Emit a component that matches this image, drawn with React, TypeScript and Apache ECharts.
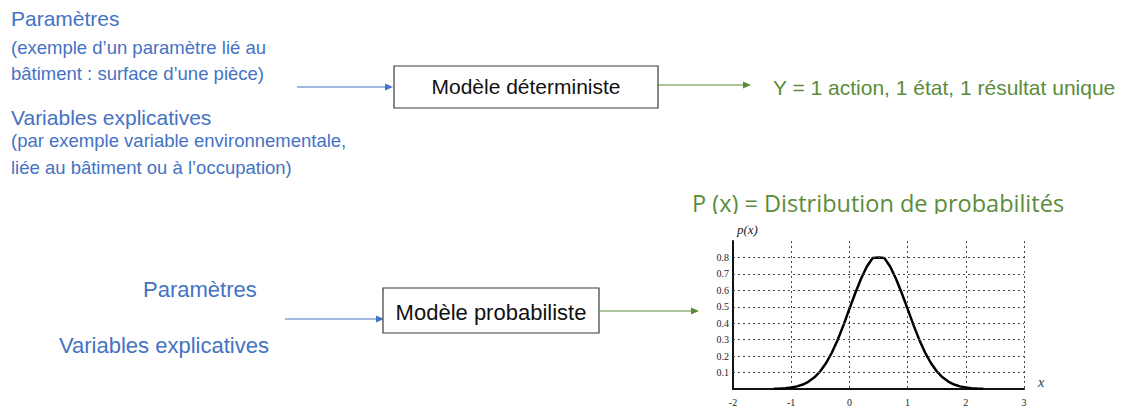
import React, { useEffect, useRef } from "react";
import * as echarts from "echarts";

// ---- Data ----
const curveX = [
  -1.3, -1.2, -1.1, -1.0, -0.9, -0.8, -0.7, -0.6, -0.5, -0.4, -0.3, -0.2, -0.1,
  0.0, 0.1, 0.2, 0.3, 0.4, 0.5, 0.6, 0.7, 0.8, 0.9, 1.0, 1.1, 1.2, 1.3, 1.4,
  1.5, 1.6, 1.7, 1.8, 1.9, 2.0, 2.1, 2.2, 2.3,
];
const curveP = [
  0.002, 0.003, 0.005, 0.009, 0.016, 0.027, 0.045, 0.071, 0.108, 0.158, 0.222,
  0.3, 0.39, 0.487, 0.582, 0.67, 0.745, 0.797, 0.8, 0.797, 0.745, 0.67, 0.582,
  0.487, 0.39, 0.3, 0.222, 0.158, 0.108, 0.071, 0.045, 0.027, 0.016, 0.009,
  0.005, 0.003, 0.002,
];
const xTickLabels = ["-2", "-1", "0", "1", "2", "3"];
const yTickValues = [0.1, 0.2, 0.3, 0.4, 0.5, 0.6, 0.7, 0.8];
const yTickLabels = ["0.1", "0.2", "0.3", "0.4", "0.5", "0.6", "0.7", "0.8"];

const topInputLines = [
  "Paramètres",
  "(exemple d\u2019un paramètre lié au",
  "bâtiment : surface d\u2019une pièce)",
  "Variables explicatives",
  "(par exemple variable environnementale,",
  "liée au bâtiment ou à l\u2019occupation)",
];
const detModelLabel = "Modèle déterministe";
const detResultLabel = "Y = 1 action, 1 état, 1 résultat unique";
const bottomInputLines = ["Paramètres", "Variables explicatives"];
const probModelLabel = "Modèle probabiliste";
const probTitle = "P (x) = Distribution de probabilités";
const yAxisName = "p(x)";
const xAxisName = "x";

const BLUE = "#4472C4";
const GREEN = "#5B8C3A";
const SANS = "'Liberation Sans', Arial, sans-serif";
const SERIF = "'Liberation Serif', 'DejaVu Serif', serif";

function arrow(x1: number, x2: number, y: number, color: string) {
  return [
    {
      type: "line",
      shape: { x1, y1: y, x2: x2 - 6, y2: y },
      style: { stroke: color, lineWidth: 1.2 },
    },
    {
      type: "polygon",
      shape: { points: [[x2 - 8, y - 3.5], [x2, y], [x2 - 8, y + 3.5]] },
      style: { fill: color },
    },
  ];
}

function txt(
  text: string,
  x: number,
  y: number,
  size: number,
  color: string,
  family: string,
  align = "left",
  extra: any = {}
) {
  return {
    type: "text",
    x,
    y,
    style: {
      text,
      fill: color,
      fontSize: size,
      fontFamily: family,
      align,
      verticalAlign: "middle",
      ...extra,
    },
  };
}

export default function App() {
  const ref = useRef<HTMLDivElement>(null);

  useEffect(() => {
    if (!ref.current) return;
    const chart = echarts.init(ref.current, null, { renderer: "svg" });

    const graphic: any[] = [
      // top-left input texts
      txt(topInputLines[0], 11, 18.5, 21, BLUE, SANS),
      txt(topInputLines[1], 11, 47, 18.5, BLUE, SANS),
      txt(topInputLines[2], 11, 73.5, 18.5, BLUE, SANS),
      txt(topInputLines[3], 11, 117.5, 21, BLUE, SANS),
      txt(topInputLines[4], 11, 140.5, 18.5, BLUE, SANS),
      txt(topInputLines[5], 11, 167, 18.5, BLUE, SANS),
      ...arrow(297, 393, 87, BLUE),
      {
        type: "rect",
        shape: { x: 394, y: 66, width: 264, height: 42 },
        style: { fill: "#fff", stroke: "#3a3a3a", lineWidth: 1.2 },
      },
      txt(detModelLabel, 526, 86, 21, "#111", SANS, "center"),
      ...arrow(658, 751, 85, GREEN),
      txt(detResultLabel, 773, 87, 21, GREEN, SANS),

      // bottom section
      txt(bottomInputLines[0], 143, 289, 22, BLUE, SANS),
      txt(bottomInputLines[1], 59, 345, 22, BLUE, SANS),
      ...arrow(285, 384, 319, BLUE),
      {
        type: "rect",
        shape: { x: 383, y: 288, width: 216, height: 45 },
        style: { fill: "#fff", stroke: "#3a3a3a", lineWidth: 1.2 },
      },
      txt(probModelLabel, 491, 312, 22, "#111", SANS, "center"),
      ...arrow(599, 699, 311, GREEN),

      // chart title, clipped at the bottom
      txt(probTitle, 692, 203, 23.5, GREEN, "'Open Sans', 'Noto Sans', sans-serif"),
      {
        type: "rect",
        z: 10,
        shape: { x: 680, y: 214, width: 420, height: 8 },
        style: { fill: "#fff" },
      },
      txt(yAxisName, 737, 229, 13, "#222", SERIF, "left", { fontStyle: "italic" }),
      txt(xAxisName, 1038, 382, 14, "#333", SERIF, "left", { fontStyle: "italic" }),
    ];

    chart.setOption({
      animation: false,
      grid: { left: 733, top: 241, width: 291, height: 148 },
      xAxis: {
        type: "value",
        min: -2,
        max: 3,
        interval: 1,
        axisLine: { onZero: false, lineStyle: { color: "#111", width: 2 } },
        axisTick: { show: false },
        axisLabel: {
          formatter: (v: number) => xTickLabels[Math.round(v + 2)] ?? "",
          fontFamily: SERIF,
          fontSize: 10,
          color: "#222",
          margin: 8,
        },
        splitLine: {
          show: true,
          lineStyle: { type: [2, 3], color: "#444", width: 1 },
        },
      },
      yAxis: {
        type: "value",
        min: 0,
        max: 0.9,
        interval: 0.1,
        axisLine: { show: true, onZero: false, lineStyle: { color: "#111", width: 2 } },
        axisTick: { show: false },
        axisLabel: {
          formatter: (v: number) => {
            const i = yTickValues.findIndex((t) => Math.abs(t - v) < 1e-6);
            return i >= 0 ? yTickLabels[i] : "";
          },
          fontFamily: SERIF,
          fontSize: 10,
          color: "#222",
          margin: 4,
        },
        splitLine: { show: false },
      },
      series: [
        {
          type: "line",
          data: curveX.map((x, i) => [x, curveP[i]]),
          showSymbol: false,
          smooth: false,
          lineStyle: { color: "#000", width: 2.5, join: "round" },
          silent: true,
          markLine: {
            silent: true,
            symbol: "none",
            label: { show: false },
            lineStyle: { type: [2, 3], color: "#444", width: 1 },
            data: yTickValues.map((v) => ({ yAxis: v })),
          },
        },
      ],
      graphic,
    });

    return () => chart.dispose();
  }, []);

  return (
    <div
      ref={ref}
      style={{ position: "absolute", left: 0, top: 0, width: 1128, height: 410, background: "#fff" }}
    />
  );
}
